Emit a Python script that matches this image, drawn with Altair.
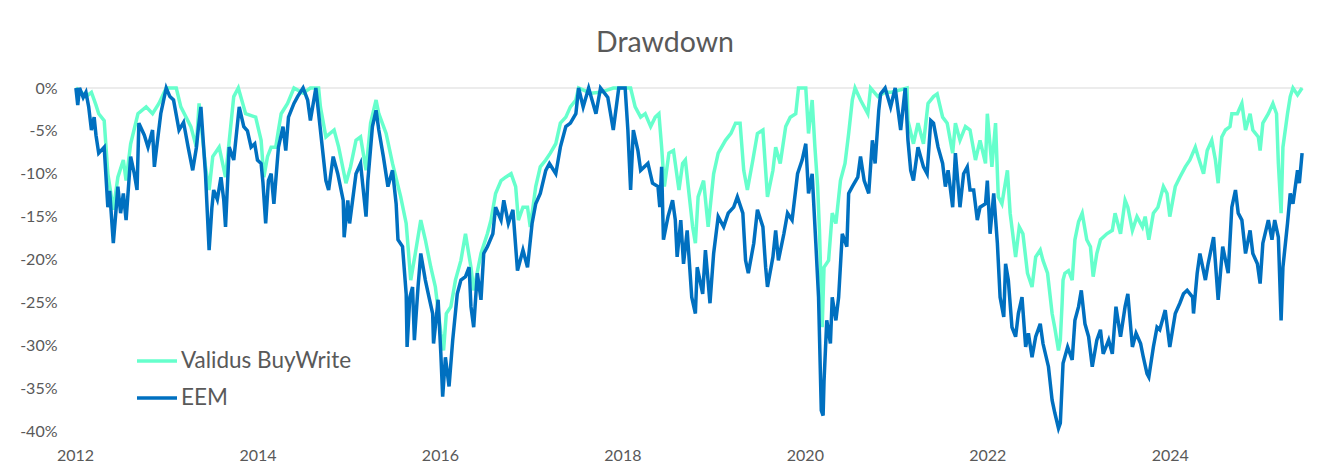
import altair as alt
import pandas as pd

# ---- Data (decimal year, drawdown in %) ----
eem_year = [
    2012.01, 2012.03, 2012.05, 2012.09, 2012.12, 2012.15, 2012.18, 2012.21, 2012.23, 2012.26,
    2012.32, 2012.36, 2012.38, 2012.42, 2012.45, 2012.47, 2012.50, 2012.53, 2012.56, 2012.61,
    2012.65, 2012.68, 2012.70, 2012.76, 2012.80, 2012.85, 2012.87, 2012.90, 2012.94, 2013.00,
    2013.04, 2013.08, 2013.14, 2013.19, 2013.24, 2013.29, 2013.33, 2013.35, 2013.38, 2013.43,
    2013.47, 2013.50, 2013.52, 2013.56, 2013.60, 2013.63, 2013.65, 2013.69, 2013.74, 2013.80,
    2013.85, 2013.89, 2013.93, 2013.97, 2014.00, 2014.04, 2014.06, 2014.09, 2014.12, 2014.15,
    2014.18, 2014.23, 2014.28, 2014.31, 2014.34, 2014.40, 2014.44, 2014.50, 2014.55, 2014.58,
    2014.64, 2014.69, 2014.75, 2014.78, 2014.83, 2014.88, 2014.94, 2014.95, 2014.99, 2015.01,
    2015.08, 2015.13, 2015.19, 2015.21, 2015.26, 2015.30, 2015.33, 2015.38, 2015.43, 2015.48,
    2015.52, 2015.54, 2015.59, 2015.63, 2015.64, 2015.67, 2015.70, 2015.72, 2015.76, 2015.79,
    2015.84, 2015.88, 2015.92, 2015.93, 2015.98, 2016.01, 2016.03, 2016.06, 2016.10, 2016.14,
    2016.19, 2016.23, 2016.28, 2016.32, 2016.34, 2016.37, 2016.41, 2016.45, 2016.48, 2016.52,
    2016.58, 2016.61, 2016.67, 2016.70, 2016.75, 2016.80, 2016.85, 2016.91, 2016.96, 2017.01,
    2017.05, 2017.10, 2017.16, 2017.20, 2017.27, 2017.32, 2017.38, 2017.43, 2017.49, 2017.52,
    2017.57, 2017.63, 2017.71, 2017.76, 2017.84, 2017.90, 2017.96, 2018.03, 2018.06, 2018.09,
    2018.12, 2018.17, 2018.20, 2018.28, 2018.33, 2018.39, 2018.41, 2018.43, 2018.45, 2018.50,
    2018.55, 2018.58, 2018.60, 2018.64, 2018.67, 2018.71, 2018.76, 2018.80, 2018.82, 2018.88,
    2018.91, 2018.96, 2019.00, 2019.05, 2019.11, 2019.16, 2019.22, 2019.26, 2019.32, 2019.35,
    2019.38, 2019.44, 2019.48, 2019.54, 2019.57, 2019.59, 2019.65, 2019.68, 2019.71, 2019.77,
    2019.81, 2019.86, 2019.92, 2019.97, 2020.01, 2020.04, 2020.08, 2020.12, 2020.15, 2020.18,
    2020.20, 2020.21, 2020.24, 2020.28, 2020.30, 2020.34, 2020.37, 2020.41, 2020.46, 2020.48,
    2020.52, 2020.58, 2020.61, 2020.65, 2020.70, 2020.74, 2020.77, 2020.81, 2020.83, 2020.88,
    2020.94, 2020.99, 2021.05, 2021.10, 2021.13, 2021.16, 2021.19, 2021.24, 2021.30, 2021.34,
    2021.38, 2021.41, 2021.46, 2021.51, 2021.54, 2021.57, 2021.62, 2021.65, 2021.70, 2021.74,
    2021.78, 2021.81, 2021.85, 2021.89, 2021.92, 2021.98, 2022.00, 2022.03, 2022.07, 2022.11,
    2022.14, 2022.18, 2022.20, 2022.23, 2022.27, 2022.31, 2022.34, 2022.38, 2022.42, 2022.45,
    2022.49, 2022.53, 2022.58, 2022.61, 2022.67, 2022.71, 2022.74, 2022.78, 2022.80, 2022.83,
    2022.88, 2022.93, 2022.96, 2023.00, 2023.03, 2023.07, 2023.11, 2023.15, 2023.20, 2023.24,
    2023.27, 2023.33, 2023.37, 2023.41, 2023.46, 2023.51, 2023.54, 2023.59, 2023.63, 2023.68,
    2023.71, 2023.75, 2023.77, 2023.82, 2023.86, 2023.89, 2023.95, 2024.00, 2024.06, 2024.11,
    2024.15, 2024.19, 2024.25, 2024.26, 2024.30, 2024.33, 2024.39, 2024.42, 2024.48, 2024.53,
    2024.58, 2024.64, 2024.68, 2024.72, 2024.75, 2024.79, 2024.83, 2024.88, 2024.91, 2024.96,
    2024.99, 2025.02, 2025.08, 2025.12, 2025.15, 2025.19, 2025.22, 2025.24, 2025.29, 2025.32,
    2025.35, 2025.40, 2025.42, 2025.45,
]
eem_dd = [
    0.0, -2.0, 0.0, -1.1, -0.5, -2.2, -4.9, -3.4, -5.5, -7.6,
    -6.9, -13.9, -12.0, -18.1, -14.2, -11.5, -14.6, -12.3, -15.4, -8.0,
    -10.0, -11.9, -4.1, -5.5, -6.9, -4.9, -9.2, -6.5, -3.0, 0.0,
    -1.0, -1.4, -4.9, -4.0, -6.9, -9.6, -7.0, -4.9, -2.2, -10.0,
    -18.9, -14.0, -11.9, -13.0, -10.4, -13.0, -16.2, -6.9, -8.4, -2.2,
    -4.5, -5.0, -6.9, -6.5, -8.4, -8.8, -11.0, -15.8, -10.8, -10.0,
    -13.5, -6.9, -4.5, -7.3, -3.4, -1.8, -1.0, 0.0, -1.4, -3.8,
    0.0, -4.9, -10.8, -11.9, -8.0, -10.0, -13.1, -17.4, -13.1, -15.8,
    -10.0, -8.8, -15.0, -10.8, -4.5, -2.6, -4.9, -8.0, -11.5, -9.6,
    -13.5, -17.7, -18.5, -24.0, -30.2, -24.4, -23.2, -29.4, -23.2, -19.3,
    -22.4, -24.4, -26.3, -29.8, -24.7, -31.0, -36.0, -31.4, -34.8, -29.4,
    -24.0, -22.4, -22.0, -20.9, -25.5, -27.9, -21.6, -24.7, -19.3, -18.5,
    -17.0, -13.9, -15.4, -13.1, -15.8, -14.2, -21.3, -18.9, -20.9, -15.8,
    -13.5, -12.3, -9.6, -8.8, -10.0, -6.9, -4.5, -4.1, -3.0, 0.0,
    -2.2, 0.0, -3.0, 0.0, -1.1, -4.9, 0.0, 0.0, -4.9, -11.9,
    -4.9, -7.3, -9.6, -8.8, -11.1, -11.5, -13.9, -9.2, -17.7, -15.0,
    -13.1, -15.4, -19.7, -15.4, -20.5, -16.6, -24.4, -26.3, -20.9, -24.0,
    -18.9, -25.1, -19.3, -15.0, -16.2, -14.6, -13.9, -12.7, -14.6, -20.1,
    -21.6, -18.1, -14.2, -16.2, -20.9, -23.2, -19.7, -16.6, -20.1, -17.0,
    -14.6, -15.4, -10.0, -8.4, -6.5, -12.3, -10.0, -18.1, -24.4, -37.6,
    -38.2, -34.2, -27.1, -29.8, -24.4, -27.1, -24.4, -17.0, -18.5, -12.3,
    -11.5, -10.4, -8.0, -10.8, -12.3, -6.1, -8.8, -2.6, -0.7, 0.0,
    -2.2, 0.0, -4.9, 0.0, -6.1, -9.6, -10.8, -6.9, -9.2, -10.0,
    -3.8, -4.1, -6.9, -8.8, -11.5, -9.6, -13.9, -7.6, -13.9, -10.0,
    -9.2, -11.9, -11.9, -15.4, -13.9, -13.5, -10.8, -17.0, -12.3, -18.1,
    -24.4, -26.7, -20.5, -22.4, -27.9, -29.0, -26.3, -24.4, -30.2, -28.6,
    -31.4, -29.0, -27.5, -29.8, -32.5, -36.4, -37.9, -39.7, -39.1, -32.1,
    -30.2, -31.7, -27.1, -25.5, -23.6, -27.5, -29.0, -32.5, -29.4, -28.2,
    -31.0, -29.4, -31.0, -25.5, -29.0, -25.5, -24.0, -30.2, -28.6, -29.8,
    -31.4, -33.3, -33.7, -30.2, -27.9, -28.2, -25.9, -30.2, -26.3, -25.1,
    -24.0, -23.6, -24.4, -26.3, -21.6, -19.3, -22.4, -20.5, -17.4, -24.7,
    -18.5, -21.6, -13.9, -11.9, -14.6, -15.4, -19.3, -16.6, -19.3, -20.5,
    -22.8, -18.1, -15.4, -17.7, -15.4, -17.4, -27.1, -20.9, -15.8, -12.3,
    -13.5, -9.6, -11.1, -7.6,
]

validus_year = [
    2012.01, 2012.07, 2012.12, 2012.18, 2012.23, 2012.26, 2012.32, 2012.36, 2012.42, 2012.47,
    2012.53, 2012.56, 2012.61, 2012.69, 2012.78, 2012.85, 2012.92, 2013.00, 2013.11, 2013.16,
    2013.27, 2013.33, 2013.36, 2013.43, 2013.47, 2013.51, 2013.58, 2013.65, 2013.74, 2013.79,
    2013.87, 2013.98, 2014.04, 2014.07, 2014.11, 2014.15, 2014.20, 2014.23, 2014.26, 2014.33,
    2014.40, 2014.50, 2014.58, 2014.67, 2014.69, 2014.75, 2014.84, 2014.89, 2014.97, 2015.02,
    2015.08, 2015.13, 2015.19, 2015.24, 2015.30, 2015.33, 2015.41, 2015.48, 2015.57, 2015.63,
    2015.68, 2015.73, 2015.79, 2015.84, 2015.90, 2015.95, 2016.01, 2016.04, 2016.07, 2016.12,
    2016.17, 2016.23, 2016.28, 2016.34, 2016.37, 2016.45, 2016.52, 2016.56, 2016.61, 2016.67,
    2016.72, 2016.78, 2016.83, 2016.86, 2016.91, 2016.96, 2016.99, 2017.05, 2017.10, 2017.16,
    2017.21, 2017.27, 2017.32, 2017.38, 2017.43, 2017.49, 2017.52, 2017.65, 2017.76, 2017.90,
    2018.09, 2018.14, 2018.20, 2018.25, 2018.31, 2018.36, 2018.40, 2018.43, 2018.46, 2018.51,
    2018.56, 2018.62, 2018.66, 2018.69, 2018.73, 2018.77, 2018.80, 2018.83, 2018.89, 2018.94,
    2019.00, 2019.05, 2019.13, 2019.19, 2019.24, 2019.29, 2019.33, 2019.37, 2019.43, 2019.48,
    2019.54, 2019.59, 2019.65, 2019.68, 2019.73, 2019.79, 2019.84, 2019.90, 2019.93, 2020.01,
    2020.04, 2020.08, 2020.11, 2020.14, 2020.16, 2020.19, 2020.21, 2020.26, 2020.30, 2020.34,
    2020.39, 2020.44, 2020.48, 2020.52, 2020.55, 2020.61, 2020.69, 2020.72, 2020.80, 2020.88,
    2020.95, 2021.12, 2021.13, 2021.19, 2021.24, 2021.30, 2021.35, 2021.41, 2021.45, 2021.51,
    2021.56, 2021.62, 2021.65, 2021.70, 2021.76, 2021.81, 2021.87, 2021.92, 2021.98, 2022.00,
    2022.05, 2022.09, 2022.12, 2022.16, 2022.22, 2022.25, 2022.31, 2022.35, 2022.39, 2022.44,
    2022.49, 2022.53, 2022.58, 2022.61, 2022.66, 2022.71, 2022.74, 2022.78, 2022.80, 2022.82,
    2022.83, 2022.85, 2022.89, 2022.93, 2022.96, 2023.00, 2023.04, 2023.09, 2023.13, 2023.16,
    2023.20, 2023.24, 2023.31, 2023.37, 2023.40, 2023.46, 2023.51, 2023.54, 2023.59, 2023.64,
    2023.70, 2023.73, 2023.77, 2023.82, 2023.87, 2023.93, 2023.97, 2024.00, 2024.06, 2024.11,
    2024.17, 2024.22, 2024.28, 2024.31, 2024.37, 2024.41, 2024.46, 2024.50, 2024.53, 2024.57,
    2024.61, 2024.66, 2024.68, 2024.74, 2024.79, 2024.83, 2024.88, 2024.91, 2024.97, 2024.99,
    2025.02, 2025.08, 2025.13, 2025.17, 2025.19, 2025.22, 2025.24, 2025.29, 2025.32, 2025.35,
    2025.40, 2025.45,
]
validus_dd = [
    0.0, -0.5, -1.0, -0.5, -2.0, -3.0, -3.8, -10.0, -14.2, -10.4,
    -8.4, -10.8, -6.5, -3.0, -2.2, -3.0, -1.8, 0.0, 0.0, -2.2,
    -4.5, -6.9, -1.8, -9.2, -11.9, -8.0, -6.9, -10.4, -1.0, 0.0,
    -3.0, -3.4, -6.1, -10.4, -8.0, -6.9, -6.9, -4.9, -3.0, -1.8,
    0.0, -0.6, 0.0, 0.0, -2.2, -5.7, -4.9, -6.9, -11.1, -9.2,
    -6.1, -5.7, -9.6, -4.1, -1.4, -3.0, -5.3, -8.8, -12.7, -15.8,
    -22.4, -19.3, -15.4, -17.7, -20.9, -23.2, -28.6, -30.6, -26.3, -25.5,
    -22.4, -20.1, -17.0, -20.9, -23.6, -19.3, -17.0, -15.4, -12.3, -10.8,
    -10.4, -10.0, -11.5, -15.4, -13.9, -13.9, -16.2, -11.5, -9.2, -8.4,
    -7.6, -6.5, -4.1, -3.4, -2.2, -1.4, 0.0, -0.6, -0.5, 0.0,
    0.0, -2.2, -3.4, -3.0, -4.5, -3.4, -3.0, -6.9, -11.5, -7.6,
    -7.3, -11.9, -8.8, -8.4, -12.3, -16.2, -18.1, -12.7, -10.8, -16.2,
    -10.0, -7.6, -6.1, -5.3, -4.1, -4.1, -9.6, -11.9, -8.4, -5.3,
    -4.9, -12.7, -9.6, -6.9, -8.8, -4.5, -3.4, -3.0, 0.0, 0.0,
    -5.3, -1.4, -6.9, -11.5, -16.6, -27.9, -20.9, -20.1, -14.6, -15.8,
    -10.8, -8.8, -5.3, -1.4, 0.0, -1.4, -3.0, 0.0, -1.0, -0.5,
    -0.5, 0.0, -3.8, -6.5, -4.1, -6.5, -1.8, -1.0, -0.7, -3.4,
    -4.1, -7.6, -4.1, -6.1, -4.5, -4.9, -8.4, -6.1, -8.8, -3.0,
    -9.2, -4.1, -12.7, -13.5, -9.6, -14.6, -19.7, -16.2, -17.0, -21.6,
    -23.2, -19.7, -18.9, -20.1, -21.6, -26.3, -28.0, -30.6, -29.4, -25.0,
    -22.4, -21.6, -21.3, -22.4, -17.7, -15.6, -14.6, -17.7, -18.5, -22.0,
    -19.3, -17.7, -17.0, -16.6, -14.6, -17.0, -13.1, -13.9, -16.6, -15.0,
    -16.2, -15.0, -17.7, -14.6, -13.9, -11.5, -12.3, -15.0, -11.5, -10.4,
    -9.2, -8.4, -6.9, -8.0, -10.0, -7.3, -6.1, -8.4, -11.1, -5.7,
    -4.9, -4.5, -3.0, -3.0, -1.8, -4.9, -3.0, -4.9, -5.7, -7.3,
    -4.1, -3.0, -1.8, -3.0, -8.8, -14.6, -6.9, -3.0, -1.0, 0.0,
    -0.8, 0.0,
]

series_names = ["Validus BuyWrite", "EEM"]
series_colors = ["#66FFCC", "#0070C0"]
x_ticks = [2012, 2014, 2016, 2018, 2020, 2022, 2024]
y_ticks = [0, -5, -10, -15, -20, -25, -30, -35, -40]

validus_df = pd.DataFrame({"year": validus_year, "dd": validus_dd,
                           "series": series_names[0]})
eem_df = pd.DataFrame({"year": eem_year, "dd": eem_dd, "series": series_names[1]})
zero_df = pd.DataFrame({"dd": [0]})

FONT = "Lato"
TXT = "#595959"

x_scale = alt.Scale(domain=[2012, 2025.46], nice=False, zero=False)
y_scale = alt.Scale(domain=[-40, 0], nice=False)
color_scale = alt.Scale(domain=series_names, range=series_colors)

x_axis = alt.Axis(values=x_ticks, format="d", title=None, grid=False, domain=False,
                  ticks=False, labelFontSize=16, labelColor=TXT, labelFont=FONT,
                  labelPadding=16, labelFlush=False)
y_axis = alt.Axis(values=y_ticks, labelExpr="datum.value + '%'", title=None, grid=False,
                  domain=False, ticks=False, labelFontSize=16, labelColor=TXT,
                  labelFont=FONT, labelPadding=18)

legend = alt.Legend(title=None, orient="none", legendX=60, legendY=251,
                    symbolType="stroke", symbolSize=1600, symbolStrokeWidth=3.5,
                    labelFontSize=22.5, labelFont=FONT, labelColor=TXT, labelOffset=2,
                    labelLimit=400, rowPadding=3, padding=0)

zero_rule = alt.Chart(zero_df).mark_rule(color="#D9D9D9", strokeWidth=1).encode(
    y=alt.Y("dd:Q", scale=y_scale, axis=y_axis)
)


def series_line(df):
    return alt.Chart(df).mark_line(strokeWidth=3.5).encode(
        x=alt.X("year:Q", scale=x_scale, axis=x_axis),
        y=alt.Y("dd:Q", scale=y_scale, axis=y_axis),
        color=alt.Color("series:N", scale=color_scale, legend=legend),
    )


chart = alt.layer(zero_rule, series_line(validus_df), series_line(eem_df)).properties(
    width=1228,
    height=343,
    title=alt.TitleParams("Drawdown", font=FONT, fontSize=28.5, fontWeight="normal",
                          color=TXT, anchor="middle", frame="group", dx=-24,
                          baseline="alphabetic", offset=0),
    autosize=alt.AutoSizeParams(type="none"),
    padding={"left": 67, "top": 80, "right": 8, "bottom": 42},
    background="white",
).configure_view(stroke=None)

chart.save("out.html", embed_options={"renderer": "svg", "actions": False})
